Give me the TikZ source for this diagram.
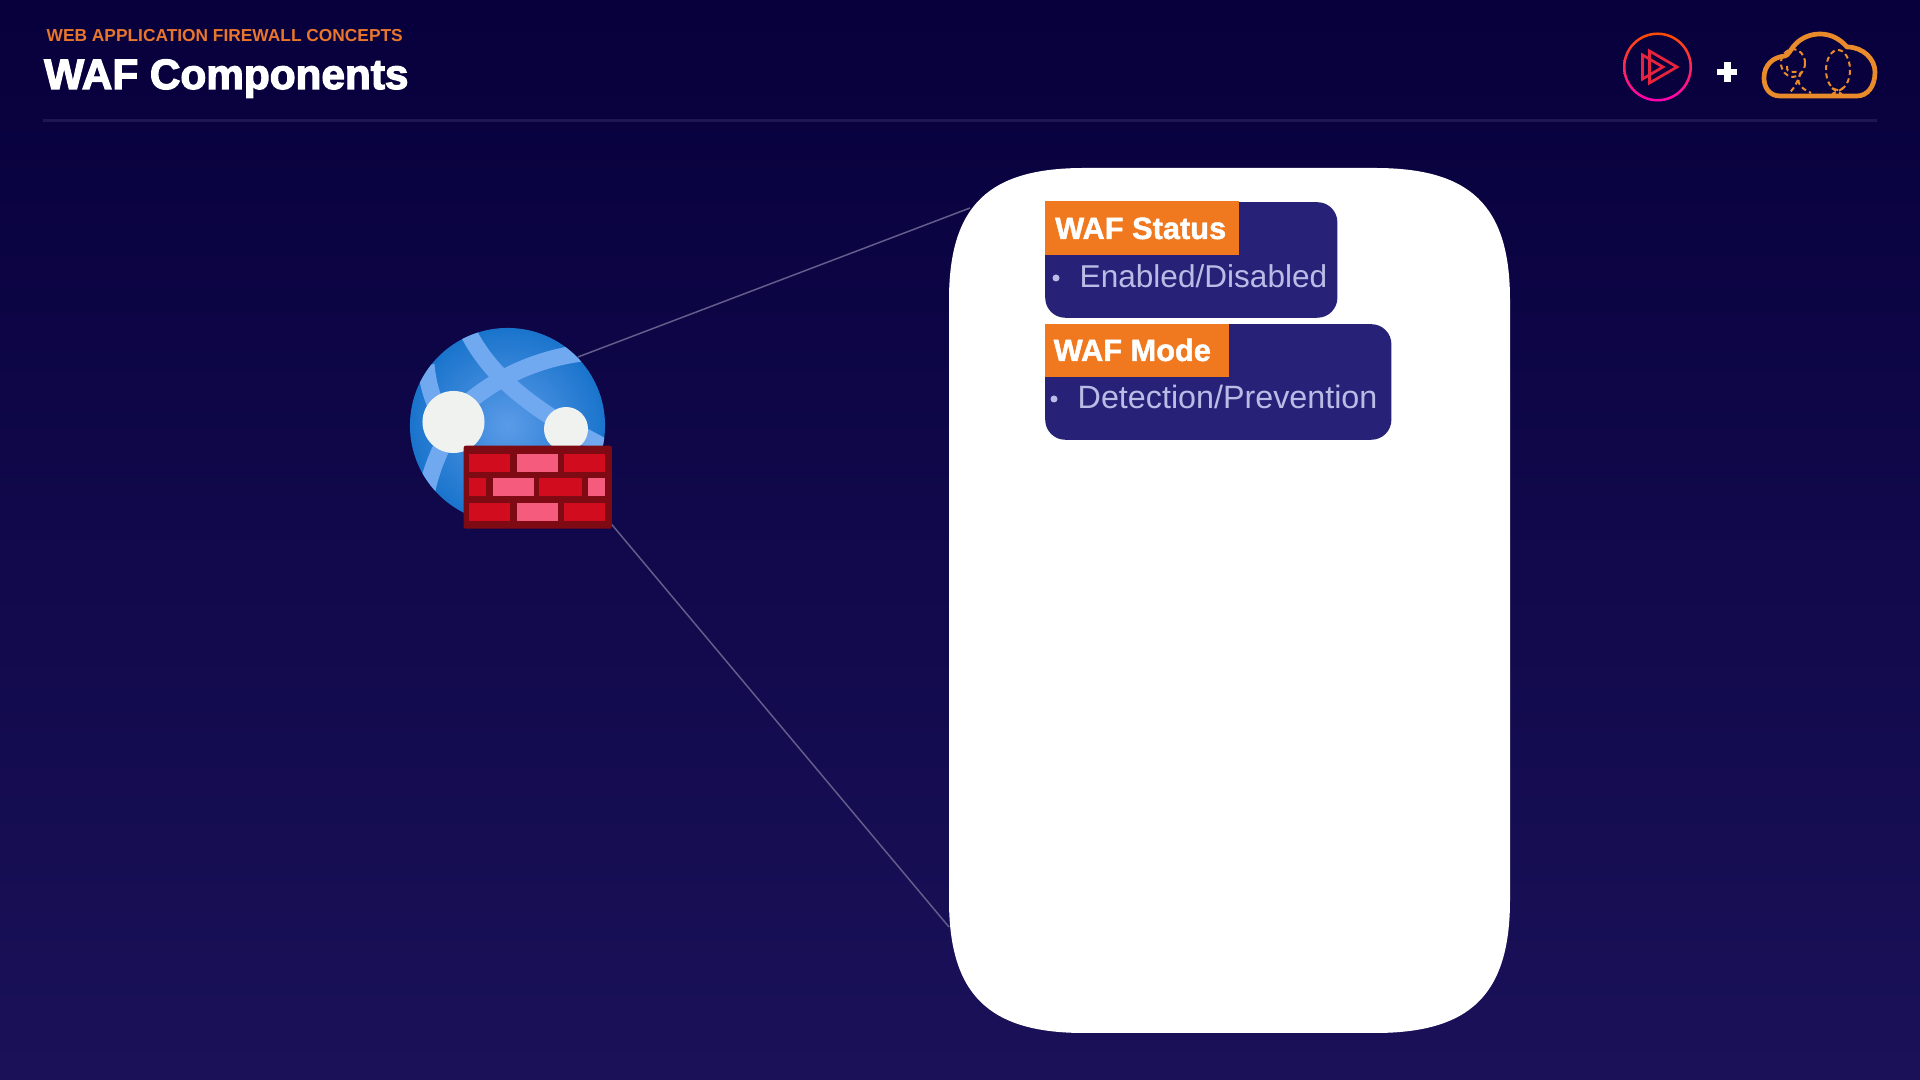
\documentclass[tikz,border=0pt]{standalone}
\usepackage{fontspec}
\setmainfont{Liberation Sans}
\newfontfamily\titlefont[FakeBold=3]{Liberation Sans Bold}
\newfontfamily\headfont[FakeBold=1.5]{Liberation Sans Bold}
\definecolor{bgtop}{HTML}{07003C}
\definecolor{bgmid}{HTML}{190F57}
\definecolor{bgbot}{HTML}{1A1159}
\definecolor{rulec}{HTML}{1E1755}
\definecolor{linkc}{HTML}{625D8A}
\definecolor{navyc}{HTML}{272178}
\definecolor{orangec}{HTML}{F0781E}
\definecolor{kickerc}{HTML}{E8762D}
\definecolor{itemc}{HTML}{B9BDE6}
\definecolor{cloudc}{HTML}{E98B2A}
\definecolor{playc}{HTML}{E8233D}
\definecolor{globein}{HTML}{5A9BE8}
\definecolor{globeout}{HTML}{1A74CC}
\definecolor{bandc}{HTML}{71A9F0}
\definecolor{spotc}{HTML}{F0F2F0}
\definecolor{walldark}{HTML}{7E0A14}
\definecolor{brickred}{HTML}{D10C1F}
\definecolor{brickpink}{HTML}{F45B7C}
\tikzset{
	link/.style={draw=linkc, line width=0.015cm},
	cardbox/.style={draw=none, fill=navyc, rounded corners=0.2cm, inner sep=0pt, anchor=north west},
	cardhead/.style={draw=none, fill=orangec, inner sep=0pt, anchor=north west},
	headtext/.style={text=white, inner sep=0pt, anchor=base west, font=\fontsize{8.75}{10}\headfont},
	itemtext/.style={text=itemc, inner sep=0pt, anchor=base west},
	dot/.style={circle, fill=itemc, inner sep=0pt, minimum size=0.07cm},
	brick/.style={draw=none, inner sep=0pt, anchor=north west},
	band/.style={draw=bandc, line width=0.17cm},
	balloon/.style={draw=cloudc, line width=0.02cm, dash pattern=on 0.05cm off 0.035cm},
}
\begin{document}
\begin{tikzpicture}[x=0.01cm, y=-0.01cm]
	\useasboundingbox (0,0) rectangle (1920,1080);
	\shade[top color=bgtop, middle color=bgmid, bottom color=bgbot] (0,0) rectangle (1920,1080);

	% header
	\node (kicker) at (46,41.5) [anchor=base west, inner sep=0pt, text=kickerc, font=\fontsize{4.93}{6}\selectfont\bfseries] {WEB APPLICATION FIREWALL CONCEPTS};
	\node (title) at (43.5,89) [anchor=base west, inner sep=0pt, text=white, font=\fontsize{12.03}{14}\titlefont] {WAF Components};
	\coordinate (ruleL) at (43,120.5);
	\coordinate (ruleR) at (1877,120.5);
	\draw[rulec, line width=0.03cm] (ruleL) -- (ruleR);

	% play logo
	\shade[top color=orange!60!red, bottom color=magenta!70!red, even odd rule] (1657.5,67) circle [radius=34.5] (1657.5,67) circle [radius=32];
	\draw[playc, line width=0.027cm, line join=miter] (1649.5,51) -- (1677,67) -- (1649.5,83) -- cycle;
	\draw[playc, line width=0.027cm, line join=miter] (1642.5,55) -- (1663,67) -- (1642.5,79) -- cycle;
	\fill[white] (1723.5,62) rectangle (1730.5,82);
	\fill[white] (1717,69) rectangle (1737,75);

	% cloud logo
	\draw[cloudc, line width=0.047cm, line join=round] (1780,96) .. controls (1769,96) and (1764,87) .. (1764,78) .. controls (1764,65) and (1773,57) .. (1785,56) .. controls (1788,55) and (1790,51) .. (1793,47) .. controls (1800,38) and (1810,34) .. (1820,34) .. controls (1831,34) and (1840,39) .. (1847,47) .. controls (1863,47) and (1875,59) .. (1875,72) .. controls (1875,87) and (1867,96) .. (1857,96) -- cycle;
	\draw[balloon] (1793,63) ellipse [x radius=12, y radius=14];
	\draw[balloon] (1838,70) ellipse [x radius=12, y radius=20];
	\draw[balloon] (1787,66) .. controls (1786,75) and (1795,70) .. (1801,73) .. controls (1795,82) and (1800,88) .. (1811,93);
	\draw[balloon] (1801,72) .. controls (1798,80) and (1795,88) .. (1789,93);
	\draw[balloon] (1832,88) .. controls (1835,91) and (1840,93) .. (1842,94);
	\draw[balloon] (1843,88) .. controls (1840,91) and (1834,93) .. (1832,94);

	% links sit under the panel
	\coordinate (linkA) at (578,357);
	\coordinate (linkB) at (970,208);
	\coordinate (linkC) at (608,520);
	\coordinate (linkD) at (949,927);
	\draw[link] (linkA) -- (linkB);
	\draw[link] (linkC) -- (linkD);

	% white panel
	\fill[white] (949,300) .. controls (949,205) and (989,168) .. (1084,168) -- (1375,168) .. controls (1470,168) and (1510,205) .. (1510,300) -- (1510,900) .. controls (1510,995) and (1470,1033) .. (1375,1033) -- (1084,1033) .. controls (989,1033) and (949,995) .. (949,900) -- cycle;

	% globe
	\node (globe) at (507.5,425.5) [circle, inner sep=0pt, minimum size=1.95cm, inner color=globein, outer color=globeout] {};
	\begin{scope}
	\clip (507.5,425.5) circle [radius=97.5];
	\draw[band] (468,332) .. controls (490,375) and (530,410) .. (610,450);
	\draw[band] (590,352) .. controls (530,358) and (480,385) .. (445,425);
	\draw[band] (426,365) .. controls (428,385) and (432,400) .. (445,425);
	\draw[band] (450,430) .. controls (440,450) and (430,470) .. (425,500);
	\end{scope}
	\node (spotA) at (453.5,422) [circle, fill=spotc, inner sep=0pt, minimum size=0.62cm] {};
	\node (spotB) at (566,429) [circle, fill=spotc, inner sep=0pt, minimum size=0.44cm] {};

	% wall
	\node (wall) at (463,445) [brick, fill=walldark, rounded corners=0.02cm, minimum width=1.48cm, minimum height=0.83cm] {};
	\foreach \bx/\bw/\by/\bc in {469/41/454/brickred, 517/41/454/brickpink, 564/41/454/brickred,
		469/17/478/brickred, 493/41/478/brickpink, 539/43/478/brickred, 588/17/478/brickpink,
		469/41/503/brickred, 517/41/503/brickpink, 564/41/503/brickred}
		\fill[\bc] (\bx,\by) rectangle ++(\bw,18.5);

	% status card
	\node (statusbox) at (1044.5,201.5) [cardbox, minimum width=2.92cm, minimum height=1.155cm] {};
	\node (statushead) at (1044.5,200.5) [cardhead, minimum width=1.94cm, minimum height=0.54cm] {};
	\node (statustitle) at (1054.5,239) [headtext] {WAF Status};
	\node (statusdot) at (1056,278) [dot] {};
	\node (statusitem) at (1079,288) [itemtext, font=\fontsize{8.98}{10}\selectfont] {Enabled/Disabled};

	% mode card
	\node (modebox) at (1044.5,323.5) [cardbox, minimum width=3.46cm, minimum height=1.155cm] {};
	\node (modehead) at (1044.5,323.5) [cardhead, minimum width=1.84cm, minimum height=0.53cm] {};
	\node (modetitle) at (1053,361) [headtext] {WAF Mode};
	\node (modedot) at (1054,399) [dot] {};
	\node (modeitem) at (1077,409) [itemtext, font=\fontsize{9.18}{10}\selectfont] {Detection/Prevention};
\end{tikzpicture}
\end{document}
